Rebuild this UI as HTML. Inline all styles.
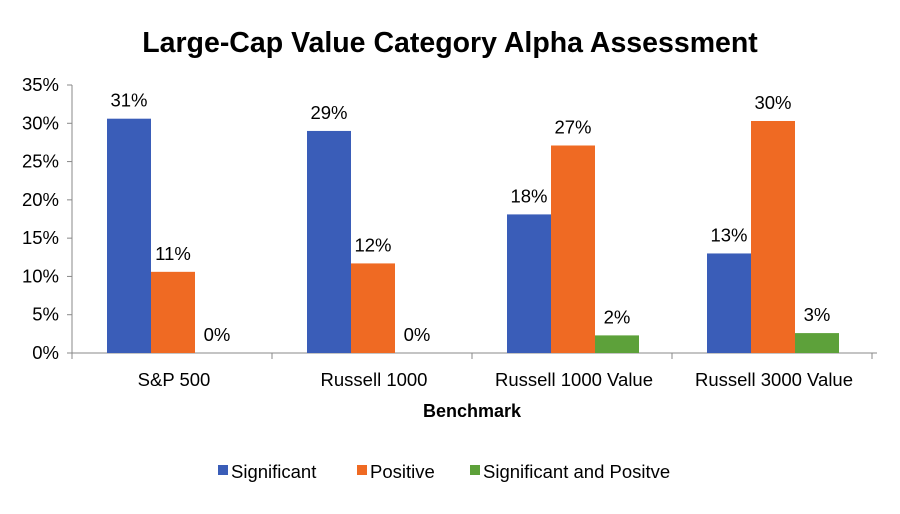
<!DOCTYPE html>
<html><head><meta charset="utf-8"><style>
body{margin:0;background:#fff;font-family:"Liberation Sans",Arial,sans-serif}
</style></head><body>
<svg id="chart" width="900" height="509" xmlns="http://www.w3.org/2000/svg" font-family="Liberation Sans, Arial, sans-serif">
<text x="450" y="52" text-anchor="middle" font-size="28.5" font-weight="bold" fill="#000">Large-Cap Value Category Alpha Assessment</text>
<g id="axes"></g><g id="bars"></g>
<text x="472" y="417" text-anchor="middle" font-size="18" font-weight="bold">Benchmark</text>
<g font-size="18.5">
<rect x="218" y="465" width="10" height="10" fill="#3A5DB8"/>
<text x="231" y="478">Significant</text>
<rect x="357" y="465" width="10" height="10" fill="#EF6A23"/>
<text x="370" y="478">Positive</text>
<rect x="470" y="465" width="10" height="10" fill="#5DA13A"/>
<text x="483" y="478">Significant and Positve</text>
</g>
</svg>
<script>
const categories=["S&P 500","Russell 1000","Russell 1000 Value","Russell 3000 Value"];
const significant=[30.6,29.0,18.1,13.0];
const positive=[10.6,11.7,27.1,30.3];
const sigPositive=[0,0,2.3,2.6];
const yTicks=[0,5,10,15,20,25,30,35];
const NS="http://www.w3.org/2000/svg";
const x0=72,x1=872,y0=353,yTop=85,yMax=35;
const y=v=>y0-(v/yMax)*(y0-yTop);
const bw=(x1-x0)/categories.length;
const axes=document.getElementById('axes'),bars=document.getElementById('bars');
function mk(tag,at,parent){const e=document.createElementNS(NS,tag);for(const k in at)e.setAttribute(k,at[k]);parent.appendChild(e);return e;}
let l=mk('line',{x1:x0,y1:yTop,x2:x0,y2:y0,stroke:'#888','stroke-width':1},axes);


l=mk('line',{x1:x0,y1:y0,x2:x1+5,y2:y0,stroke:'#888','stroke-width':1},axes);


yTicks.forEach(t=>{
 const tk=mk('line',{x1:x0-5,y1:y(t),x2:x0,y2:y(t),stroke:'#888'},axes);
 
 
 const tx=mk('text',{x:x0-13,y:y(t)+6,'text-anchor':'end','font-size':18.5},axes);
 tx.textContent=t+'%';
 
 
});
for(let i=0;i<=categories.length;i++){
 const tk=mk('line',{x1:x0+i*bw,y1:y0,x2:x0+i*bw,y2:y0+6,stroke:'#888'},axes);
 
 
}
const series=[[significant,'#3A5DB8','significant'],[positive,'#EF6A23','positive'],[sigPositive,'#5DA13A','significant-and-positive']];
const barW=44,pad=35;
categories.forEach((c,i)=>{
 const tx=mk('text',{x:x0+i*bw+bw/2+2,y:y0+33,'text-anchor':'middle','font-size':18.5},axes);
 tx.textContent=c;
 
 
 series.forEach((s,j)=>{
  const v=s[0][i],bx=x0+i*bw+pad+j*barW;
  const r=mk('rect',{x:bx,y:y(v),width:barW,height:y0-y(v),fill:s[1]},bars);
  
  
  const lb=mk('text',{x:bx+barW/2,y:y(v)-12,'text-anchor':'middle','font-size':18.5},bars);
  lb.textContent=Math.round(v)+'%';
  
  
 });
});
</script>
</body></html>
